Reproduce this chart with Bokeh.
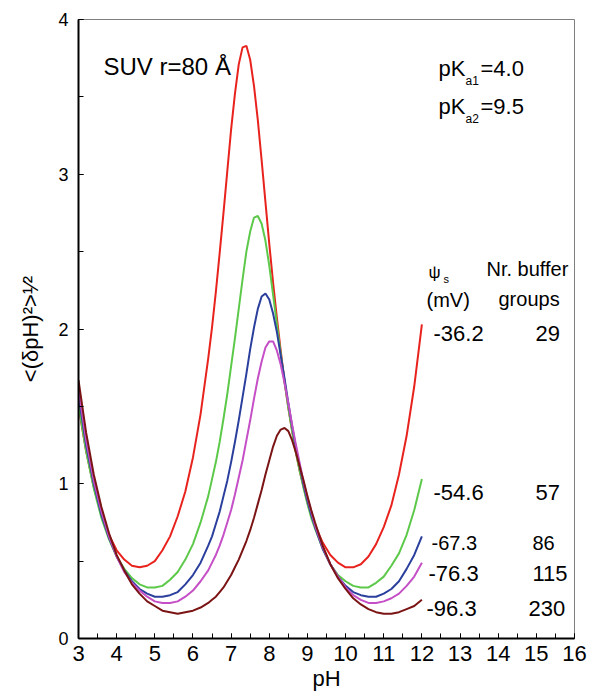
from bokeh.plotting import figure
from bokeh.models import Range1d, SingleIntervalTicker, Label
from bokeh.embed import file_html
from bokeh.resources import INLINE

# ---- data ----
ph = [3.0, 3.2, 3.4, 3.6, 3.8, 4.0, 4.2, 4.4, 4.6, 4.8, 5.0, 5.2, 5.4, 5.6, 5.8, 6.0,
      6.2, 6.4, 6.5, 6.6, 6.7, 6.8, 6.9, 7.0, 7.1, 7.2, 7.3, 7.4, 7.5, 7.6, 7.7, 7.8,
      7.9, 8.0, 8.1, 8.2, 8.3, 8.4, 8.5, 8.6, 8.7, 8.8, 8.9, 9.0, 9.1, 9.2, 9.4, 9.6,
      9.8, 10.0, 10.2, 10.4, 10.6, 10.8, 11.0, 11.2, 11.4, 11.6, 11.8, 12.0]

dph_psi_36 = [1.50, 1.21, 0.98, 0.80, 0.67, 0.57, 0.51, 0.47, 0.46, 0.47, 0.50, 0.57, 0.66, 0.79, 0.95, 1.17,
              1.45, 1.81, 2.01, 2.24, 2.49, 2.75, 3.02, 3.29, 3.52, 3.71, 3.82, 3.83, 3.74, 3.57, 3.35, 3.09,
              2.82, 2.55, 2.30, 2.07, 1.86, 1.66, 1.49, 1.34, 1.20, 1.08, 0.98, 0.88, 0.80, 0.73, 0.62, 0.54,
              0.49, 0.46, 0.46, 0.48, 0.53, 0.61, 0.72, 0.86, 1.06, 1.31, 1.63, 2.03]
dph_psi_55 = [1.51, 1.21, 0.97, 0.78, 0.64, 0.53, 0.45, 0.39, 0.35, 0.33, 0.33, 0.34, 0.38, 0.43, 0.51, 0.61,
              0.75, 0.92, 1.03, 1.14, 1.27, 1.42, 1.58, 1.76, 1.94, 2.13, 2.32, 2.50, 2.63, 2.72, 2.73, 2.68,
              2.57, 2.41, 2.22, 2.03, 1.84, 1.66, 1.49, 1.34, 1.20, 1.08, 0.97, 0.87, 0.78, 0.71, 0.58, 0.48,
              0.41, 0.37, 0.34, 0.33, 0.33, 0.36, 0.40, 0.47, 0.55, 0.67, 0.83, 1.03]
dph_psi_67 = [1.57, 1.25, 1.00, 0.80, 0.65, 0.53, 0.44, 0.37, 0.32, 0.29, 0.27, 0.27, 0.28, 0.30, 0.35, 0.41,
              0.49, 0.60, 0.66, 0.74, 0.82, 0.92, 1.02, 1.14, 1.27, 1.41, 1.56, 1.71, 1.87, 2.01, 2.13, 2.21,
              2.23, 2.19, 2.10, 1.98, 1.83, 1.68, 1.52, 1.37, 1.23, 1.11, 0.99, 0.89, 0.80, 0.72, 0.58, 0.48,
              0.40, 0.34, 0.30, 0.28, 0.27, 0.27, 0.29, 0.32, 0.37, 0.45, 0.54, 0.66]
dph_psi_76 = [1.61, 1.28, 1.02, 0.82, 0.66, 0.53, 0.43, 0.36, 0.31, 0.27, 0.24, 0.23, 0.23, 0.24, 0.27, 0.31,
              0.37, 0.44, 0.49, 0.54, 0.60, 0.67, 0.75, 0.83, 0.93, 1.04, 1.15, 1.28, 1.41, 1.55, 1.68, 1.79,
              1.88, 1.92, 1.92, 1.86, 1.77, 1.65, 1.52, 1.38, 1.25, 1.13, 1.01, 0.91, 0.82, 0.73, 0.59, 0.48,
              0.40, 0.33, 0.28, 0.25, 0.23, 0.23, 0.24, 0.26, 0.29, 0.34, 0.40, 0.49]
dph_psi_96 = [1.67, 1.33, 1.06, 0.85, 0.68, 0.54, 0.44, 0.35, 0.29, 0.24, 0.21, 0.18, 0.17, 0.16, 0.17, 0.18,
              0.20, 0.23, 0.25, 0.27, 0.30, 0.33, 0.37, 0.41, 0.46, 0.51, 0.57, 0.63, 0.70, 0.78, 0.87, 0.96,
              1.06, 1.15, 1.24, 1.31, 1.35, 1.36, 1.34, 1.28, 1.20, 1.11, 1.02, 0.92, 0.83, 0.75, 0.60, 0.48,
              0.39, 0.32, 0.26, 0.22, 0.19, 0.17, 0.16, 0.16, 0.17, 0.19, 0.21, 0.25]

psi_labels = ["-36.2", "-54.6", "-67.3", "-76.3", "-96.3"]
buffer_labels = ["29", "57", "86", "115", "230"]
series = [dph_psi_36, dph_psi_55, dph_psi_67, dph_psi_76, dph_psi_96]
colors = ["#E8231E", "#5DC94A", "#2B3F9D", "#C54FC6", "#7B1414"]

FONT = "Liberation Sans"

p = figure(width=590, height=697, x_range=Range1d(3, 16), y_range=Range1d(0, 4),
           output_backend="svg", toolbar_location=None,
           min_border_left=78, min_border_right=16, min_border_top=19, min_border_bottom=59)
p.background_fill_color = "white"
p.border_fill_color = "white"
p.grid.visible = False
p.outline_line_color = "#7f7f7f"
p.outline_line_width = 1

for ys, c in zip(series, colors):
    p.line(ph, ys, line_color=c, line_width=2)

p.xaxis.ticker = SingleIntervalTicker(interval=1, num_minor_ticks=2)
p.yaxis.ticker = SingleIntervalTicker(interval=1, num_minor_ticks=2)
for ax in (p.xaxis[0], p.yaxis[0]):
    ax.axis_line_color = "black"
    ax.axis_line_width = 2
    ax.major_tick_in = 5
    ax.major_tick_out = 0
    ax.minor_tick_in = 5
    ax.minor_tick_out = 0
    ax.major_tick_line_color = "black"
    ax.minor_tick_line_color = "black"
    ax.major_label_text_font = FONT
    ax.major_label_text_color = "black"
    ax.axis_label_text_font = FONT
    ax.axis_label_text_font_style = "normal"
    ax.axis_label_text_color = "black"
    ax.axis_label_text_font_size = "22px"
p.xaxis.major_label_text_font_size = "22px"
p.xaxis.major_label_standoff = 7
p.xaxis.axis_label = "pH"
p.xaxis.axis_label_standoff = 2
p.yaxis.major_label_text_font_size = "18px"
p.yaxis.major_label_standoff = 10
p.yaxis.axis_label = "<(δpH)²>¹⁄²"
p.yaxis.axis_label_standoff = 12

XPX = (574 - 78) / 13.0
YPX = (638 - 19) / 4.0


def dx(px):
    return 3 + (px - 78) / XPX


def dy(py):
    return (638 - py) / YPX


def lab(px, py, text, size, align="left"):
    p.add_layout(Label(x=dx(px), y=dy(py), text=text, text_font=FONT,
                       text_font_size="%dpx" % size, text_align=align,
                       text_baseline="alphabetic", text_color="black"))


# titles / annotations
lab(103, 66, "SUV r=80 Å", 24)
lab(438, 68, "pK", 22)
lab(465, 80, "a1", 12)
lab(480, 68, "=4.0", 22)
lab(438, 106, "pK", 22)
lab(465, 118, "a2", 12)
lab(480, 106, "=9.5", 22)

lab(428, 272, "ψ", 17)
lab(443, 278, "s", 11)
lab(486, 268, "Nr. buffer", 20)
lab(426, 299, "(mV)", 20)
lab(498, 298, "groups", 20)

row_base = [333, 492, 542, 573, 608]
row_psi_x = [433, 433, 431, 428, 426]
row_n_x = [535, 535, 532, 532, 528]
row_size = [22, 22, 20, 22, 22]
for t1, t2, yb, x1, x2, s in zip(psi_labels, buffer_labels, row_base, row_psi_x, row_n_x, row_size):
    lab(x1, yb, t1, s)
    lab(x2, yb, t2, s)

open("out.html", "w").write(file_html(p, INLINE))
